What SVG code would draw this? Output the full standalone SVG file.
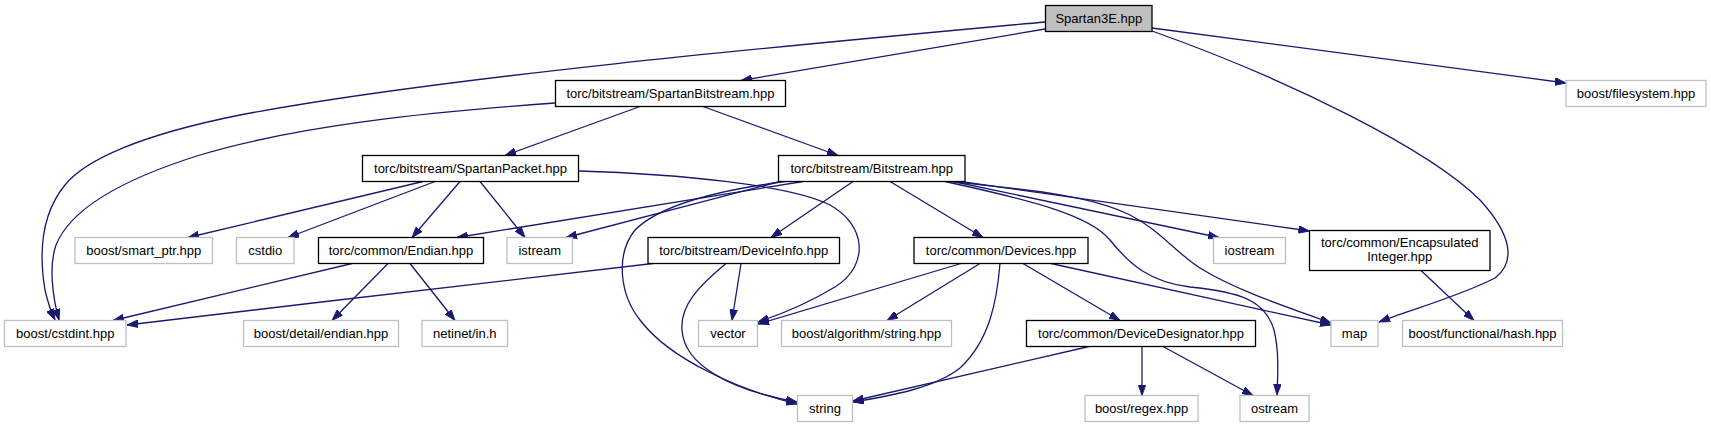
<svg xmlns="http://www.w3.org/2000/svg" width="1711" height="427" viewBox="0 0 1711 427">
<style>
.n rect{fill:#fff;stroke:#000;stroke-width:1.3}
.g rect{fill:#fff;stroke:#bfbfbf;stroke-width:1.3}
.r rect{fill:#bfbfbf;stroke:#000;stroke-width:1.3}
text{font-family:"Liberation Sans",Arial,Helvetica,sans-serif;font-size:13px;fill:#000;text-anchor:middle}
#edges path{fill:none;stroke:#191970;stroke-width:1.3;marker-end:url(#ah)}
</style>
<defs>
<marker id="ah" viewBox="0 0 10 7" refX="10" refY="3.5" markerWidth="11" markerHeight="8" markerUnits="userSpaceOnUse" orient="auto">
<path d="M0,0 L10,3.5 L0,7 z" fill="#191970" stroke="#191970" stroke-width="0.8"/>
</marker>
</defs>
<rect width="1711" height="427" fill="#fff"/>
<g id="edges">
<path d="M1045,22 C850,40 450,75 240,115 C140,135 85,160 65,185 C38,218 40,260 45,290 C48,303 51,312 55,320"/>
<path d="M1045,29 L741,80.5"/>
<path d="M1152,28 L1566,83"/>
<path d="M1152,31 C1290,80 1430,150 1480,200 C1512,235 1516,262 1495,278 C1460,296 1410,310 1379,322"/>
<path d="M555,103 C430,112 300,125 200,155 C120,180 70,210 56,245 C49,265 52,295 59,320"/>
<path d="M640,106.5 L505,155.5"/>
<path d="M703,106.5 L838,155.5"/>
<path d="M423,181.5 L188,237.5"/>
<path d="M435,181.5 L288,237.5"/>
<path d="M460,181.5 L412,237.5"/>
<path d="M480,181.5 L525,237.5"/>
<path d="M578.5,171 C680,174 790,185 830,205 C866,225 870,265 835,287 C810,302 785,313 758,322"/>
<path d="M803,181.5 L457,237.5"/>
<path d="M780,181.5 L566,237.5"/>
<path d="M785,181.5 C720,190 660,205 635,230 C615,255 620,295 640,320 C670,360 740,390 797,404"/>
<path d="M853,181.5 L771,237.5"/>
<path d="M890,181.5 L983,237.5"/>
<path d="M953,181.5 L1219,237.5"/>
<path d="M960,181.5 L1309.5,231"/>
<path d="M950,181.5 C1030,190 1090,195 1130,215 C1160,230 1175,252 1200,268 C1235,290 1290,308 1331,323"/>
<path d="M945,181.5 C1030,200 1090,215 1110,240 C1130,265 1150,282 1190,287 C1240,292 1265,300 1274,330 C1279,350 1278,372 1277,395"/>
<path d="M653,263.5 C500,280 300,305 127,325"/>
<path d="M741,263.5 L732,320.5"/>
<path d="M726,263.5 C700,285 680,305 682,330 C684,365 730,390 797,402"/>
<path d="M352,263.5 L113,320.5"/>
<path d="M388,263.5 L332,320.5"/>
<path d="M410,263.5 L455,320.5"/>
<path d="M961,263.5 L758,324"/>
<path d="M980,263.5 L887,320.5"/>
<path d="M1000,263.5 C997,300 990,340 960,368 C935,388 890,396 853,402"/>
<path d="M1023,263.5 L1120,320.5"/>
<path d="M1051,263.5 L1331,325"/>
<path d="M1089,346.5 L853,401"/>
<path d="M1142,346.5 L1142,395.5"/>
<path d="M1163,346.5 L1253,395.5"/>
<path d="M1421,270.5 L1474,320.5"/>
</g>
<g id="n_spartan3e" class="r"><rect x="1045.5" y="5.5" width="106.5" height="26"/><text x="1098.75" y="23">Spartan3E.hpp</text></g>
<g id="n_spartanbitstream" class="n"><rect x="555.5" y="80.5" width="230" height="26"/><text x="670.5" y="98">torc/bitstream/SpartanBitstream.hpp</text></g>
<g id="n_filesystem" class="g"><rect x="1566" y="80.5" width="140" height="26"/><text x="1636" y="98">boost/filesystem.hpp</text></g>
<g id="n_spartanpacket" class="n"><rect x="362.5" y="155.5" width="216" height="26"/><text x="470.5" y="173">torc/bitstream/SpartanPacket.hpp</text></g>
<g id="n_bitstream" class="n"><rect x="778.5" y="155.5" width="186.5" height="26"/><text x="871.75" y="173">torc/bitstream/Bitstream.hpp</text></g>
<g id="n_smartptr" class="g"><rect x="75" y="237.5" width="137.5" height="26"/><text x="143.75" y="255">boost/smart_ptr.hpp</text></g>
<g id="n_cstdio" class="g"><rect x="236.5" y="237.5" width="57.5" height="26"/><text x="265.25" y="255">cstdio</text></g>
<g id="n_endian" class="n"><rect x="318.5" y="237.5" width="165" height="26"/><text x="401" y="255">torc/common/Endian.hpp</text></g>
<g id="n_istream" class="g"><rect x="507" y="237.5" width="65.5" height="26"/><text x="539.75" y="255">istream</text></g>
<g id="n_deviceinfo" class="n"><rect x="648" y="237.5" width="191.5" height="26"/><text x="743.75" y="255">torc/bitstream/DeviceInfo.hpp</text></g>
<g id="n_devices" class="n"><rect x="914" y="237.5" width="174" height="26"/><text x="1001" y="255">torc/common/Devices.hpp</text></g>
<g id="n_iostream" class="g"><rect x="1213.5" y="237.5" width="72" height="26"/><text x="1249.5" y="255">iostream</text></g>
<g id="n_encapsulated" class="n"><rect x="1309.5" y="230.5" width="180.5" height="40"/><text x="1399.75" y="247">torc/common/Encapsulated</text><text x="1399.75" y="261">Integer.hpp</text></g>
<g id="n_cstdint" class="g"><rect x="4.5" y="320.5" width="121.5" height="26"/><text x="65.25" y="338">boost/cstdint.hpp</text></g>
<g id="n_detailendian" class="g"><rect x="243.5" y="320.5" width="155" height="26"/><text x="321" y="338">boost/detail/endian.hpp</text></g>
<g id="n_netinet" class="g"><rect x="422" y="320.5" width="85.5" height="26"/><text x="464.75" y="338">netinet/in.h</text></g>
<g id="n_vector" class="g"><rect x="698.5" y="320.5" width="59" height="26"/><text x="728" y="338">vector</text></g>
<g id="n_algstring" class="g"><rect x="781.5" y="320.5" width="170" height="26"/><text x="866.5" y="338">boost/algorithm/string.hpp</text></g>
<g id="n_devicedesignator" class="n"><rect x="1026.5" y="320.5" width="229" height="26"/><text x="1141" y="338">torc/common/DeviceDesignator.hpp</text></g>
<g id="n_map" class="g"><rect x="1331" y="320.5" width="47" height="26"/><text x="1354.5" y="338">map</text></g>
<g id="n_hash" class="g"><rect x="1402.5" y="320.5" width="160" height="26"/><text x="1482.5" y="338">boost/functional/hash.hpp</text></g>
<g id="n_string" class="g"><rect x="797.5" y="395.5" width="55" height="26"/><text x="825" y="413">string</text></g>
<g id="n_regex" class="g"><rect x="1085" y="395.5" width="113" height="26"/><text x="1141.5" y="413">boost/regex.hpp</text></g>
<g id="n_ostream" class="g"><rect x="1240" y="395.5" width="69" height="26"/><text x="1274.5" y="413">ostream</text></g>
</svg>
